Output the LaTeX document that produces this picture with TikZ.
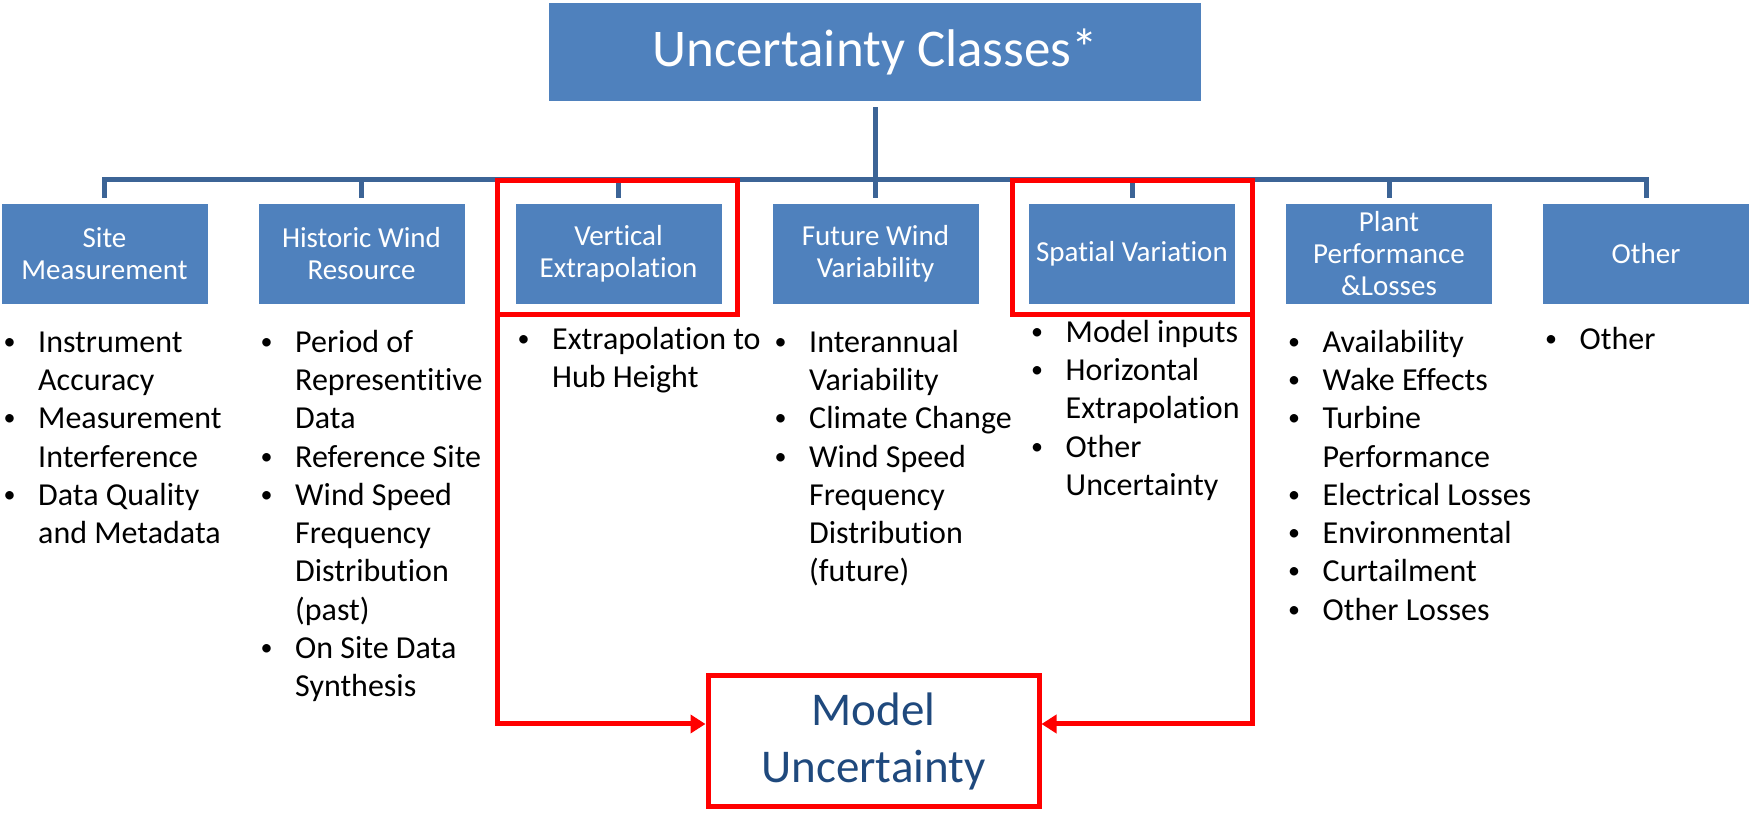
\documentclass[tikz,border=0pt]{standalone}
\usepackage{fontspec}
\setmainfont{Carlito}[Ligatures={NoCommon}]
\usepackage{tikz}
\usetikzlibrary{positioning,arrows.meta}

\definecolor{boxblue}{HTML}{4F81BD}
\definecolor{lineblue}{HTML}{3C6496}
\definecolor{modelblue}{HTML}{1F497D}
\newcommand{\itemdot}{\makebox[36.5pt][l]{\hspace{2pt}\raisebox{3pt}{\fontsize{24}{24}\selectfont •}}}
\newcommand{\itemgap}{\hspace*{36.5pt}}
\newcommand{\firstline}{\rule{0pt}{30pt}}

\begin{document}
\begin{tikzpicture}[x=1pt, y=1pt,
    catbox/.style={fill=boxblue, text=white, minimum width=206pt, minimum height=100pt,
      inner sep=0pt, outer sep=0pt, align=center, font=\fontsize{29}{32}\selectfont},
    itemlist/.style={anchor=north west, inner sep=0pt, align=left,
      font=\fontsize{32}{38.3}\selectfont},
    conn/.style={draw=lineblue, line width=5pt},
    redframe/.style={draw=red, line width=5pt, minimum width=240pt, minimum height=134pt,
      inner sep=0pt, outer sep=0pt},
    redline/.style={draw=red, line width=5pt, -{Triangle[length=15pt,width=18pt]}},
  ]
    \useasboundingbox (0,0) rectangle (1749,817);
    % Boite principale
    \node[fill=boxblue, text=white, minimum width=652pt, minimum height=98pt, inner sep=0pt,
      font=\fontsize{53}{63}\selectfont] (classes) at (875,765) {Uncertainty Classes*};
    % Classes
    \node[catbox] (site)  at (104.5,563) {Site\\Measurement};
    \node[catbox] (hist)  at (361.5,563) {Historic Wind\\Resource};
    \node[catbox] (vert)  at (618.5,563) {Vertical\\Extrapolation};
    \node[catbox] (fut)   at (875.5,563) {Future Wind\\Variability};
    \node[catbox] (spat)  at (1132,563)  {Spatial Variation};
    \node[catbox] (plant) at (1389,563)  {Plant\\Performance\\\&Losses};
    \node[catbox] (other) at (1646,563)  {Other};
    % Connecteurs
    \coordinate (bar) at (0,637);
    \draw[conn, shorten <=6pt] (classes.south) -- (classes.south |- bar);
    \draw[conn, shorten <=6pt, shorten >=6pt] (site.north) -- (site.north |- bar)
      -- (other.north |- bar) -- (other.north);
    \foreach \b in {hist,vert,fut,spat,plant}
      \draw[conn, shorten <=6pt] (\b.north) -- (\b.north |- bar);
    % Listes
    \node[itemlist] (site-list) at (1.5,495) {\firstline\itemdot Instrument\\\itemgap Accuracy\\
      \itemdot Measurement\\\itemgap Interference\\
      \itemdot Data Quality\\\itemgap and Metadata};
    \node[itemlist] (hist-list) at (258.5,495) {\firstline\itemdot Period of\\\itemgap Representitive\\\itemgap Data\\
      \itemdot Reference Site\\
      \itemdot Wind Speed\\\itemgap Frequency\\\itemgap Distribution\\\itemgap (past)\\
      \itemdot On Site Data\\\itemgap Synthesis};
    \node[itemlist] (vert-list) at (515.5,498) {\firstline\itemdot Extrapolation to\\\itemgap Hub Height};
    \node[itemlist] (fut-list) at (772.5,495) {\firstline\itemdot Interannual\\\itemgap Variability\\
      \itemdot Climate Change\\
      \itemdot Wind Speed\\\itemgap Frequency\\\itemgap Distribution\\\itemgap (future)};
    \node[itemlist] (spat-list) at (1029,505) {\firstline\itemdot Model inputs\\
      \itemdot Horizontal\\\itemgap Extrapolation\\
      \itemdot Other\\\itemgap Uncertainty};
    \node[itemlist] (plant-list) at (1286,495) {\firstline\itemdot Availability\\
      \itemdot Wake Effects\\
      \itemdot Turbine\\\itemgap Performance\\
      \itemdot Electrical Losses\\
      \itemdot Environmental\\
      \itemdot Curtailment\\
      \itemdot Other Losses};
    \node[itemlist] (other-list) at (1543,498) {\firstline\itemdot Other};
    % Cadres rouges
    \node[redframe] (vred) at (617.5,569.5) {};
    \node[redframe] (sred) at (1132.5,569.5) {};
    \node[draw=red, line width=5pt, minimum width=331pt, minimum height=130pt, inner sep=0pt,
      text=modelblue, align=center, font=\fontsize{47}{57}\selectfont] (model) at (873.5,76)
      {Model\\Uncertainty};
    % Fleches
    \coordinate (flow) at (0,93);
    \draw[redline] (vred.south west) -- (vred.south west |- flow) -- (model.west |- flow);
    \draw[redline] (sred.south east) -- (sred.south east |- flow) -- (model.east |- flow);
\end{tikzpicture}
\end{document}
